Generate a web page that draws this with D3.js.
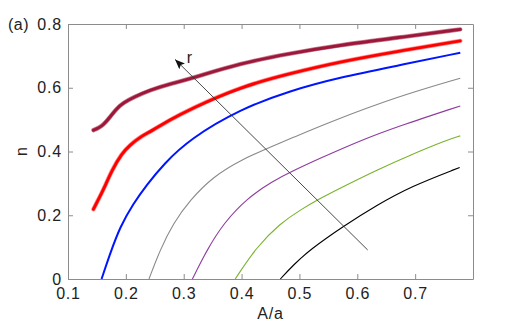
<!DOCTYPE html>
<html>
<head>
<meta charset="utf-8">
<script src="https://cdn.jsdelivr.net/npm/d3@7"></script>
<style>
  body { margin: 0; background: #fff; }
  svg { font-family: "Liberation Sans", Arial, Helvetica, sans-serif; }
  .axis text { font-size: 16px; fill: #222; letter-spacing: 0.8px; }
  .axis path, .axis line { stroke: #8c8c8c; }
</style>
</head>
<body>
<svg></svg>
<script>
// curves: [A/a, n]
var darkRed = [[0.144,0.467],[0.152,0.473],[0.161,0.483],[0.173,0.509],[0.184,0.535],[0.196,0.553],
  [0.213,0.57],[0.242,0.593],[0.276,0.612],[0.311,0.628],[0.398,0.677],[0.484,0.708],[0.571,0.734],
  [0.669,0.757],[0.778,0.783]];
var red = [[0.144,0.219],[0.152,0.248],[0.161,0.279],[0.176,0.342],[0.193,0.394],[0.207,0.42],
  [0.225,0.446],[0.242,0.462],[0.276,0.499],[0.311,0.533],[0.398,0.603],[0.484,0.645],[0.571,0.682],
  [0.669,0.714],[0.778,0.747]];
var blue = [[0.158,0],[0.173,0.081],[0.19,0.164],[0.213,0.237],[0.236,0.295],[0.265,0.36],
  [0.311,0.44],[0.398,0.533],[0.484,0.591],[0.571,0.633],[0.669,0.669],[0.778,0.71]];
var gray = [[0.24,0],[0.259,0.091],[0.282,0.175],[0.311,0.248],[0.351,0.321],[0.398,0.373],
  [0.455,0.418],[0.484,0.44],[0.553,0.493],[0.669,0.572],[0.778,0.63]];
var purple = [[0.315,0],[0.34,0.091],[0.369,0.175],[0.409,0.253],[0.455,0.308],[0.484,0.335],
  [0.536,0.379],[0.605,0.434],[0.669,0.478],[0.778,0.543]];
var green = [[0.389,0],[0.426,0.101],[0.467,0.175],[0.501,0.216],[0.536,0.253],[0.576,0.29],
  [0.634,0.342],[0.692,0.389],[0.755,0.436],[0.778,0.449]];
var black = [[0.467,0],[0.49,0.045],[0.519,0.093],[0.576,0.166],[0.634,0.232],[0.692,0.29],[0.777,0.35]];

var xTicks = [0.1,0.2,0.3,0.4,0.5,0.6,0.7];
var yTicks = [0,0.2,0.4,0.6,0.8];
var arrowFrom = [0.618,0.091], arrowTo = [0.285,0.689];

var margin = {top: 24, right: 50, bottom: 46, left: 68},
    width = 523 - margin.left - margin.right,
    height = 325 - margin.top - margin.bottom;

var svg = d3.select("svg").attr("width", 523).attr("height", 325),
    g = svg.append("g").attr("transform", "translate(" + margin.left + "," + margin.top + ")");

var x = d3.scaleLinear().domain([0.1, 0.8]).range([0, width]);
var y = d3.scaleLinear().domain([0, 0.8]).range([height, 0]);

var fmt = function(d) { return d === 0 ? "0" : d3.format(".1f")(d); };

g.append("g").attr("class", "axis")
    .attr("transform", "translate(0," + height + ")")
    .call(d3.axisBottom(x).tickValues(xTicks).tickSize(-5).tickSizeOuter(0).tickPadding(9).tickFormat(fmt));
g.append("g").attr("class", "axis")
    .call(d3.axisLeft(y).tickValues(yTicks).tickSize(-5).tickSizeOuter(0).tickPadding(6).tickFormat(fmt));
g.append("g").attr("class", "axis")
    .call(d3.axisTop(x).tickValues(xTicks).tickSize(-5).tickSizeOuter(0).tickFormat(""));
g.append("g").attr("class", "axis")
    .attr("transform", "translate(" + width + ",0)")
    .call(d3.axisRight(y).tickValues(yTicks).tickSize(-5).tickSizeOuter(0).tickFormat(""));

var line = d3.line()
    .x(function(d) { return x(d[0]); })
    .y(function(d) { return y(d[1]); })
    .curve(d3.curveBasis);

// thin model curves
[[black, "#000000", 1.1], [green, "#7ab32e", 1.1], [purple, "#8e3c9e", 1.1],
 [gray, "#8a8a8a", 1.1], [blue, "#0015ff", 2]].forEach(function(s) {
  g.append("path").datum(s[0])
    .attr("fill", "none").attr("stroke", s[1]).attr("stroke-width", s[2])
    .attr("d", line);
});

// thick marker curves
[[red, "#ff0000", "#ff8c8c"], [darkRed, "#9c1838", "#c77a90"]].forEach(function(s) {
  g.append("path").datum(s[0])
    .attr("fill", "none").attr("stroke", s[2]).attr("stroke-width", 4.4)
    .attr("stroke-linecap", "round").attr("d", line);
  g.append("path").datum(s[0])
    .attr("fill", "none").attr("stroke", s[1]).attr("stroke-width", 2.9)
    .attr("stroke-linecap", "round").attr("d", line);
});

// arrow "r"
svg.append("defs").append("marker")
    .attr("id", "head").attr("viewBox", "0 0 10 10")
    .attr("refX", 10).attr("refY", 5)
    .attr("markerWidth", 10).attr("markerHeight", 10)
    .attr("markerUnits", "userSpaceOnUse").attr("orient", "auto")
  .append("path").attr("d", "M0,1 L10,5 L0,9 L2,5 Z").attr("fill", "#111");

g.append("line")
    .attr("x1", x(arrowFrom[0])).attr("y1", y(arrowFrom[1]))
    .attr("x2", x(arrowTo[0])).attr("y2", y(arrowTo[1]))
    .attr("stroke", "#333").attr("stroke-width", 0.9)
    .attr("marker-end", "url(#head)");

g.append("text")
    .attr("x", x(0.31)).attr("y", y(arrowTo[1]) + 4)
    .attr("font-size", 16).attr("fill", "#222")
    .attr("text-anchor", "middle")
    .text("r");

// labels
svg.append("text")
    .attr("x", margin.left + width / 2).attr("y", 319)
    .attr("text-anchor", "middle").attr("font-size", 16).attr("fill", "#222")
    .attr("letter-spacing", "0.8px")
    .text("A/a");

svg.append("text")
    .attr("transform", "translate(27," + (margin.top + height / 2) + ") rotate(-90)")
    .attr("text-anchor", "middle").attr("font-size", 16).attr("fill", "#222")
    .text("n");

svg.append("text")
    .attr("x", 8).attr("y", 30)
    .attr("font-size", 16).attr("fill", "#222")
    .attr("letter-spacing", "0.5px")
    .text("(a)");
</script>
</body>
</html>
